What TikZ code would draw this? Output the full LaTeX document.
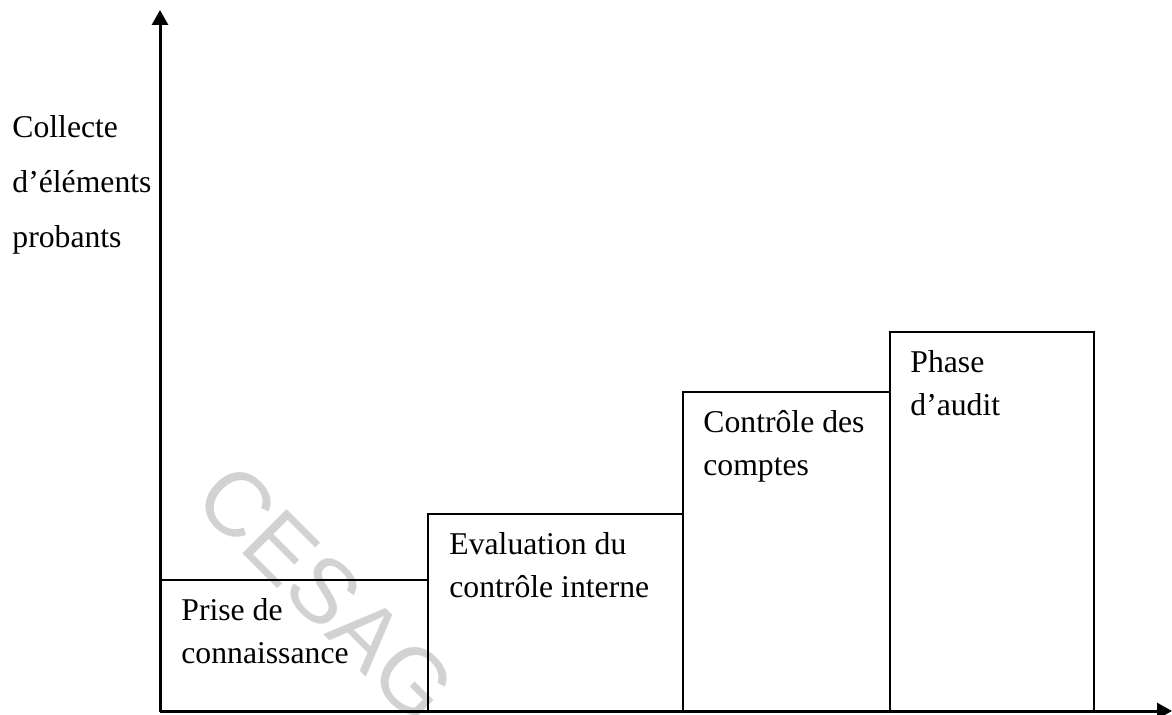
\documentclass[tikz,border=0pt]{standalone}
\usepackage{fontspec}
\setmainfont{Liberation Serif}
\newfontfamily\wmsans{Liberation Sans}
\usepackage{tikz}
\usetikzlibrary{arrows.meta,positioning}
\definecolor{wmgray}{HTML}{D2D2D2}
\newcommand\phasefont{\fontsize{15.85}{21.5}\selectfont}
\newcommand\ylabfont{\fontsize{15.85}{27.5}\selectfont}

\begin{document}
\begin{tikzpicture}[x=0.5pt,y=-0.5pt,>=Latex]
\tikzset{bar/.style={draw,line width=1pt,inner sep=0pt,outer sep=0pt,anchor=south west},
  phase/.style={font=\phasefont,align=left,inner sep=0pt},
  axis/.style={-{Triangle[length=7.5pt,width=8pt]},line width=1.5pt},
  watermark/.style={font=\wmsans\fontsize{45.5}{50}\selectfont,text=wmgray,rotate=-45}}
\useasboundingbox (0,0) rectangle (1172,715);
\node[watermark] (wm) at (326,593) {CESAG};
% phases
\coordinate (o) at (160,711);
\node[bar,minimum width=134pt,minimum height=65.5pt] (p1) at (o) {};
\node[bar,minimum width=127.5pt,minimum height=98.5pt] (p2) at (p1.south east) {};
\node[bar,minimum width=103.5pt,minimum height=159.5pt] (p3) at (p2.south east) {};
\node[bar,minimum width=102pt,minimum height=189.5pt] (p4) at (p3.south east) {};
\node[phase,below right=4.95pt and 10.5pt of p1.north west] (t1) {\strut Prise de\\connaissance};
\node[phase,below right=4.95pt and 10.5pt of p2.north west] (t2) {\strut Evaluation du\\contrôle interne};
\node[phase,below right=4.95pt and 10pt of p3.north west] (t3) {\strut Contrôle des\\comptes};
\node[phase,below right=4.95pt and 10pt of p4.north west] (t4) {\strut Phase\\d’audit};
% axes
\coordinate (ytip) at (160,10);
\coordinate (xtip) at (1172,711);
\draw[axis] (o) -- (ytip);
\draw[axis] (o) -- (xtip);
\node[font=\ylabfont,align=left,inner sep=0pt,anchor=north west] (ylab) at (12,98.5) {\strut Collecte\\d’éléments\\probants};
\end{tikzpicture}
\end{document}
